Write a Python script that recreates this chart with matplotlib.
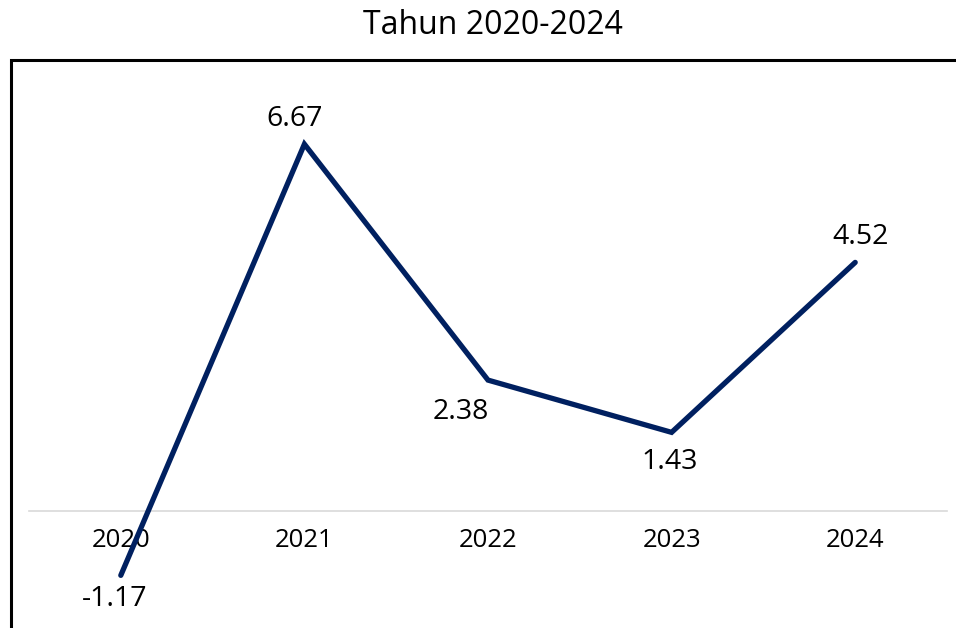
import matplotlib
matplotlib.use("Agg")
import matplotlib.pyplot as plt
from matplotlib.patches import Rectangle

years = ["2020", "2021", "2022", "2023", "2024"]
values = [-1.17, 6.67, 2.38, 1.43, 4.52]
title = "Tahun 2020-2024"

plt.rcParams['font.family'] = ['Open Sans', 'DejaVu Sans']

W, H = 956, 628
fig = plt.figure(figsize=(W / 100, H / 100), dpi=100)

def px(x0, y0, x1, y1):
    return [x0 / W, 1 - y1 / H, (x1 - x0) / W, (y1 - y0) / H]

ax = fig.add_axes(px(29, 70, 947, 628))
x = list(range(len(years)))
line_color = "#002060"
ax.plot(x, values, color=line_color, lw=3.8, solid_capstyle="round",
        solid_joinstyle="miter", clip_on=False, zorder=3)

ax.set_xlim(-0.5, 4.5)
ax.set_ylim(-2.127, 8.018)
for s in ["top", "right", "left"]:
    ax.spines[s].set_visible(False)
ax.spines["bottom"].set_position(("data", 0))
ax.spines["bottom"].set_color("#d9d9d9")
ax.spines["bottom"].set_linewidth(1.2)
ax.set_yticks([])
ax.set_xticks(x)
ax.set_xticklabels(years)
ax.tick_params(axis="x", length=0, pad=12, labelsize=18.5, labelcolor="#000000")
ax.patch.set_alpha(0)

# data labels: above for local peaks, below otherwise
for i, (xi, v) in enumerate(zip(x, values)):
    left = values[i - 1] if i > 0 else None
    right = values[i + 1] if i < len(values) - 1 else None
    neighbors = [n for n in (left, right) if n is not None]
    above = all(v >= n for n in neighbors) and i > 0
    dx = 0
    if above:
        dy = 25
        dx = 5 if i == len(values) - 1 else -10
    elif i == 0:
        dy = -24
        dx = -6
    elif right is not None and left > v > right:
        dy = -32
        dx = -27
    else:
        dy = -30
        dx = -2
    ax.annotate(f"{v:.2f}", (xi, v), xytext=(dx * 0.72, dy * 0.72),
                textcoords="offset points", ha="center", va="center",
                fontsize=20.5, color="#000000", annotation_clip=False)

fig.text(492.5 / W, 1 - 26 / H, title, ha="center", va="center", fontsize=23,
         color="#000000")

frame = Rectangle((10.5 / W, -0.5), 2.0, (1 - 60.5 / H) + 0.5,
                  transform=fig.transFigure, fill=False, edgecolor="black",
                  linewidth=2.2, zorder=10)
fig.add_artist(frame)

fig.savefig("out.png", dpi=100)
